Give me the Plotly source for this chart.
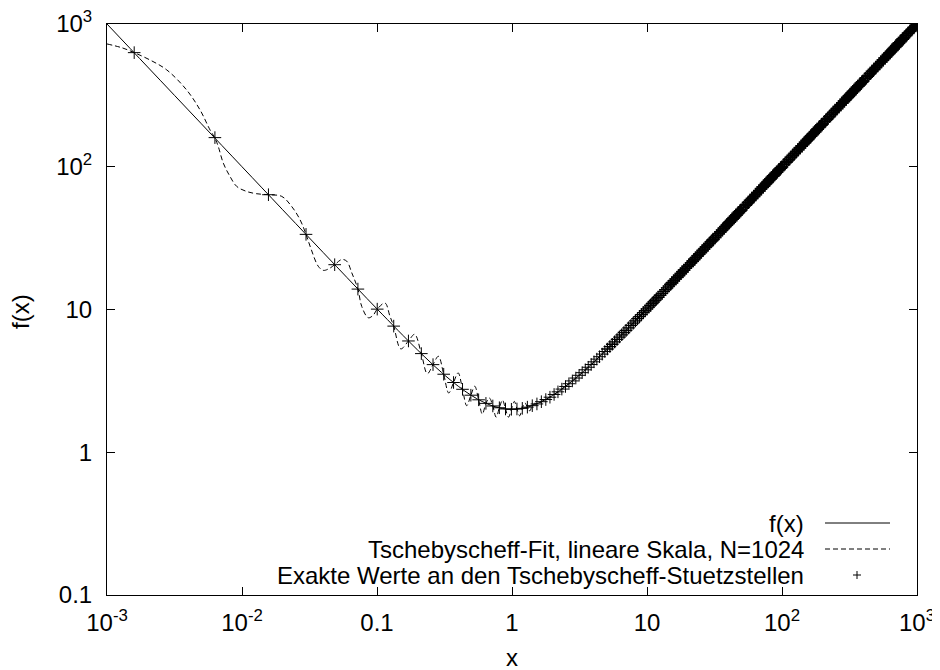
import plotly.graph_objects as go

# f(x) solid curve
fx_x = [0.001, 0.002, 0.005, 0.01, 0.02, 0.05, 0.1, 0.2, 0.3, 0.4, 0.5, 0.6, 0.7,
        0.8, 0.9, 1.0, 1.2, 1.5, 2, 3, 5, 10, 20, 50, 100, 1000]
fx_y = [1000, 500, 200, 100, 50, 20.05, 10.1, 5.2, 3.63, 2.9, 2.5, 2.27, 2.13,
        2.05, 2.01, 2.0, 2.03, 2.17, 2.5, 3.33, 5.2, 10.1, 20.05, 50.02, 100, 1000]

# Tschebyscheff fit (dashed), nodes plus over/undershoots between them
fit_x = [0.001, 0.0013, 0.00159, 0.00208, 0.00277, 0.00389, 0.00489, 0.0058, 0.0063,
         0.00667, 0.00727, 0.00815, 0.00914, 0.01084, 0.01286, 0.0157, 0.0197, 0.0233,
         0.0269, 0.0298, 0.0325, 0.0367, 0.040, 0.044, 0.0486, 0.0548, 0.0597, 0.065,
         0.0722, 0.0771, 0.0862, 0.0935, 0.1004, 0.1146, 0.1247, 0.133, 0.150, 0.171,
         0.190, 0.213, 0.236, 0.260, 0.285, 0.312, 0.340, 0.369, 0.399, 0.430, 0.462,
         0.496, 0.530, 0.566, 0.603, 0.641, 0.680, 0.721, 0.763, 0.806, 0.850, 0.895,
         0.942, 0.990, 1.04, 1.088, 1.14, 1.192, 1.245, 1.30, 1.355, 1.413, 1.47, 1.53,
         1.65, 2.0, 3.0, 5.0, 10, 100, 1000]
fit_y = [725, 680, 630, 560, 477, 345, 250, 181, 159,
         138.6, 106, 85.5, 72.8, 67.1, 64.7, 63.7, 62, 52.8,
         42.6, 33.6, 26.5, 20.1, 18.8, 19.3, 20.6, 22.4, 21.8, 18.1,
         13.9, 10.5, 8.75, 9.1, 10.06, 11.1, 8.97, 7.65, 5.3, 6.02,
         6.7, 4.91, 3.55, 4.11, 4.7, 3.52, 2.6, 3.08, 3.6, 2.76, 2.12,
         2.51, 2.9, 2.33, 1.85, 2.20, 2.4, 2.11, 1.76, 2.05, 2.32, 2.01,
         1.76, 2.00, 2.27, 2.01, 1.8, 2.03, 2.22, 2.07, 1.95, 2.12, 2.2, 2.18,
         2.26, 2.5, 3.33, 5.2, 10.1, 100, 1000]

# exact values at the Tschebyscheff nodes (crosses)
node_x = [0.00159, 0.0063, 0.0157, 0.0298, 0.0486, 0.0722, 0.1004, 0.133, 0.171, 0.213,
          0.260, 0.312, 0.369, 0.430, 0.496, 0.566, 0.641, 0.721, 0.806, 0.895,
          0.990, 1.088, 1.192, 1.30, 1.413, 1.53, 1.65, 1.78, 1.91, 2.05,
          2.19, 2.34, 2.49, 2.64, 2.80, 2.97, 3.14, 3.31, 3.49, 3.67,
          3.86, 4.05, 4.25, 4.45, 4.66, 4.87, 5.09, 5.31, 5.53, 5.76,
          6.0, 6.25, 6.5, 6.75, 7.0, 7.3, 7.6, 7.9, 8.2, 8.5,
          8.8, 9.1, 9.4, 9.7, 10.0, 10.3, 10.6, 10.9, 11.2, 11.5,
          11.8, 12.1, 12.5, 12.9, 13.3, 13.7, 14.1, 14.5, 14.9, 15.3,
          15.8, 16.3, 16.8, 17.3, 17.8, 18.3, 18.8, 19.4, 20.0, 20.6,
          21.2, 21.8, 22.4, 23.0, 23.7, 24.4, 25.1, 25.8, 26.5, 27.3,
          28.1, 28.9, 29.7,
          30.5, 31, 32, 33, 34, 35, 36, 37, 38, 39, 40, 41, 42, 43, 44, 45, 46, 47, 48, 49, 50,
          52, 54, 56, 58, 60, 62, 64, 66, 68, 70, 72, 74, 76, 78, 80, 82, 84, 86, 88, 90,
          92, 94, 96, 98, 100,
          104, 108, 112, 116, 120, 124, 128, 132, 136, 140, 144, 148, 152, 156, 160,
          164, 168, 172, 176, 180, 184, 188, 192, 196, 200,
          208, 216, 224, 232, 240, 248, 256, 264, 272, 280, 288, 296, 304, 312, 320,
          328, 336, 344, 352, 360, 368, 376, 384, 392, 400,
          416, 432, 448, 464, 480, 496, 512, 528, 544, 560, 576, 592, 608, 624, 640,
          656, 672, 688, 704, 720, 736, 752, 768, 784, 800,
          830, 860, 890, 920, 950, 980, 1000]
node_y = [630, 160, 63.7, 33.6, 20.6, 13.9, 10.06, 7.65, 6.02, 4.91,
          4.11, 3.52, 3.08, 2.76, 2.51, 2.33, 2.20, 2.11, 2.05, 2.01,
          2.00, 2.01, 2.03, 2.07, 2.12, 2.18, 2.26, 2.34, 2.43, 2.54,
          2.65, 2.77, 2.89, 3.02, 3.16, 3.31, 3.46, 3.61, 3.78, 3.94,
          4.12, 4.30, 4.49, 4.67, 4.87, 5.08, 5.29, 5.50, 5.71, 5.93,
          6.17, 6.41, 6.65, 6.90, 7.14, 7.44, 7.73, 8.03, 8.32, 8.62,
          8.91, 9.21, 9.51, 9.80, 10.1, 10.4, 10.69, 10.99, 11.29, 11.59,
          11.88, 12.18, 12.58, 12.98, 13.38, 13.77, 14.17, 14.57, 14.97, 15.37,
          15.86, 16.36, 16.86, 17.36, 17.86, 18.35, 18.85, 19.45, 20.05, 20.65,
          21.25, 21.85, 22.44, 23.04, 23.74, 24.44, 25.14, 25.84, 26.54, 27.34,
          28.14, 28.93, 29.73,
          30.5, 31, 32, 33, 34, 35, 36, 37, 38, 39, 40, 41, 42, 43, 44, 45, 46, 47, 48, 49, 50,
          52, 54, 56, 58, 60, 62, 64, 66, 68, 70, 72, 74, 76, 78, 80, 82, 84, 86, 88, 90,
          92, 94, 96, 98, 100,
          104, 108, 112, 116, 120, 124, 128, 132, 136, 140, 144, 148, 152, 156, 160,
          164, 168, 172, 176, 180, 184, 188, 192, 196, 200,
          208, 216, 224, 232, 240, 248, 256, 264, 272, 280, 288, 296, 304, 312, 320,
          328, 336, 344, 352, 360, 368, 376, 384, 392, 400,
          416, 432, 448, 464, 480, 496, 512, 528, 544, 560, 576, 592, 608, 624, 640,
          656, 672, 688, 704, 720, 736, 752, 768, 784, 800,
          830, 860, 890, 920, 950, 980, 1000]

x_tickvals = [0.001, 0.01, 0.1, 1, 10, 100, 1000]
x_ticktext = ["10<sup>-3</sup>", "10<sup>-2</sup>", "0.1", "1", "10",
              "10<sup>2</sup>", "10<sup>3</sup>"]
y_tickvals = [0.1, 1, 10, 100, 1000]
y_ticktext = ["0.1", "1", "10", "10<sup>2</sup>", "10<sup>3</sup>"]

legend_labels = ["f(x)", "Tschebyscheff-Fit, lineare Skala, N=1024",
                 "Exakte Werte an den Tschebyscheff-Stuetzstellen"]

FONT = "Liberation Sans, Arial, Helvetica, sans-serif"
FS = 24
W, H = 940, 670
# plot frame in window pixels; the page body adds an 8px margin
L, R, T, B = 107, 917, 24, 595
OFF = 8


def px(xp):
    return (xp - L) / (R - L)


def py(yp):
    return (B - yp) / (B - T)


fig = go.Figure()
fig.add_trace(go.Scatter(x=fx_x, y=fx_y, mode="lines", line_shape="spline",
                         line=dict(color="black", width=1)))
fig.add_trace(go.Scatter(x=fit_x, y=fit_y, mode="lines", line_shape="spline",
                         line=dict(color="black", width=1, dash="5px,3px")))
# crosses get a heavier stroke where they pile up into a solid band
widths = [1.0 if v < 5 else 1.3 if v < 15 else 1.7 if v < 40 else 2.0 for v in node_x]
fig.add_trace(go.Scatter(x=node_x, y=node_y, mode="markers",
                         marker=dict(symbol="cross-thin", size=9, color="black",
                                     line=dict(color="black", width=widths))))

axis = dict(type="log", showgrid=False, zeroline=False, showline=True,
            linecolor="black", linewidth=1, mirror="ticks", ticks="inside",
            ticklen=8, tickwidth=1, tickcolor="black", tickmode="array",
            automargin=False, ticklabeloverflow="allow",
            tickfont=dict(family=FONT, size=FS, color="black"))
fig.update_xaxes(**axis, range=[-3, 3], tickvals=x_tickvals, ticktext=x_ticktext,
                 ticklabelstandoff=6)
fig.update_yaxes(**axis, range=[-1, 3], tickvals=y_tickvals, ticktext=y_ticktext,
                 ticklabelstandoff=9)

annotations = [
    dict(text="x", x=px(512), y=py(657), xanchor="center", yanchor="middle",
         showarrow=False),
    dict(text="f(x)", x=px(20), y=py(312), xanchor="center", yanchor="middle",
         showarrow=False, textangle=-90),
]
shapes = []
rows = [523, 549, 575]
for label, yr in zip(legend_labels, rows):
    annotations.append(dict(text=label, x=px(806), y=py(yr), xanchor="right",
                            yanchor="middle", showarrow=False))
shapes.append(dict(type="line", x0=px(825), x1=px(890), y0=py(rows[0]), y1=py(rows[0]),
                   line=dict(color="black", width=1)))
shapes.append(dict(type="line", x0=px(825), x1=px(890), y0=py(rows[1]), y1=py(rows[1]),
                   line=dict(color="black", width=1, dash="5px,3px")))
shapes.append(dict(type="line", x0=px(853), x1=px(861), y0=py(rows[2]), y1=py(rows[2]),
                   line=dict(color="black", width=1)))
shapes.append(dict(type="line", x0=px(857), x1=px(857), y0=py(rows[2] - 4),
                   y1=py(rows[2] + 4), line=dict(color="black", width=1)))
for a in annotations:
    a.update(xref="paper", yref="paper", font=dict(family=FONT, size=FS, color="black"))
for s in shapes:
    s.update(xref="paper", yref="paper")

fig.update_layout(width=W - OFF, height=H - OFF, showlegend=False,
                  margin=dict(l=L - OFF, r=W - R, t=T - OFF, b=H - B),
                  paper_bgcolor="white", plot_bgcolor="white",
                  font=dict(family=FONT, size=FS, color="black"),
                  annotations=annotations, shapes=shapes)

fig.write_html("out.html")
